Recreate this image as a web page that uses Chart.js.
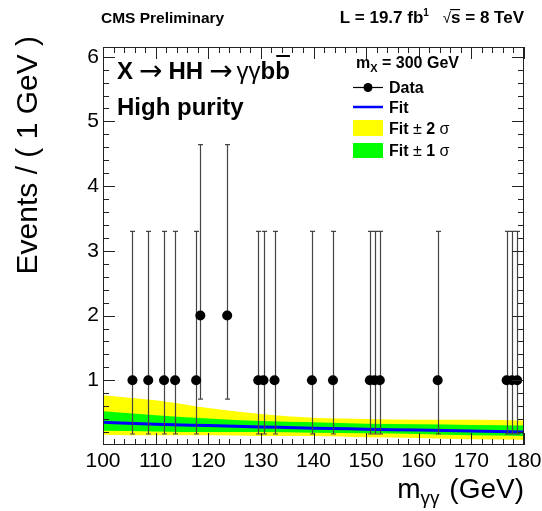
<!DOCTYPE html>
<html>
<head>
<meta charset="utf-8">
<script src="https://cdn.jsdelivr.net/npm/chart.js@4.4.0/dist/chart.umd.min.js"></script>
<style>
  html, body { margin: 0; padding: 0; background: #fff; }
  canvas { display: block; }
</style>
</head>
<body>
<canvas id="chart" width="542" height="511"></canvas>
<script>

/********************************/
/***** DATA *****/
/********************************/

// observed events (m_gg in GeV, counts, poisson error bar ends)
const massPoints = [105.6, 108.6, 111.6, 113.7, 117.7, 118.5, 123.6, 129.5, 130.5, 132.6, 139.7, 143.7, 150.7, 151.6, 152.6, 163.6, 176.7, 177.7, 178.7]
const eventCounts = [1, 1, 1, 1, 1, 2, 2, 1, 1, 1, 1, 1, 1, 1, 1, 1, 1, 1, 1]
const errLow = [0.17, 0.17, 0.17, 0.17, 0.17, 0.71, 0.71, 0.17, 0.17, 0.17, 0.17, 0.17, 0.17, 0.17, 0.17, 0.17, 0.17, 0.17, 0.17]
const errHigh = [3.30, 3.30, 3.30, 3.30, 3.30, 4.64, 4.64, 3.30, 3.30, 3.30, 3.30, 3.30, 3.30, 3.30, 3.30, 3.30, 3.30, 3.30, 3.30]

// background fit and its bands
const fitMass = [100, 110, 120, 130, 140, 150, 160, 170, 180]
const fitValues = [0.35, 0.32, 0.30, 0.28, 0.26, 0.245, 0.23, 0.215, 0.20]
const band2Up = [0.77, 0.69, 0.57, 0.48, 0.42, 0.40, 0.39, 0.39, 0.38]
const band1Up = [0.52, 0.46, 0.41, 0.37, 0.35, 0.33, 0.32, 0.31, 0.30]
const band1Down = [0.22, 0.21, 0.20, 0.20, 0.19, 0.18, 0.17, 0.15, 0.14]
const band2Down = [0.16, 0.15, 0.15, 0.14, 0.14, 0.12, 0.11, 0.09, 0.08]

const xRange = [100, 180]
const yRange = [0, 6.15]

/********************************/
/***** HELPERS *****/
/********************************/

const FONT = '"Liberation Sans", "DejaVu Sans", Arial, sans-serif'
const SYM = '"DejaVu Sans", "Liberation Sans", sans-serif'

const toXY = (xs, ys) => xs.map((x, i) => ({x: x, y: ys[i]}))

// draws a list of text pieces [{t, f, dy, gap}] one after another
const drawRich = (ctx, parts, x, y, align) => {
  let total = 0
  parts.forEach(p => { ctx.font = p.f; total += ctx.measureText(p.t).width + (p.gap || 0) })
  let cx = align === 'right' ? x - total : x
  const spans = []
  parts.forEach(p => {
    ctx.font = p.f
    ctx.textAlign = 'left'
    ctx.textBaseline = 'alphabetic'
    ctx.fillText(p.t, cx, y + (p.dy || 0))
    const w = ctx.measureText(p.t).width
    spans.push([cx, cx + w])
    cx += w + (p.gap || 0)
  })
  return spans
}

/********************************/
/***** ROOT STYLE PLUGIN *****/
/********************************/

const rootStyle = {
  id: 'rootStyle',

  beforeDatasetDraw: (chart, args) => {
    if (args.index !== 0) return
    const ctx = chart.ctx
    const xs = chart.scales.x
    const ys = chart.scales.y
    ctx.save()
    ctx.strokeStyle = '#444'
    ctx.lineWidth = 1.2
    massPoints.forEach((m, i) => {
      const px = Math.round(xs.getPixelForValue(m)) + 0.5
      const lo = ys.getPixelForValue(errLow[i])
      const hi = ys.getPixelForValue(errHigh[i])
      ctx.beginPath()
      ctx.moveTo(px, lo)
      ctx.lineTo(px, hi)
      ctx.moveTo(px - 2.5, lo)
      ctx.lineTo(px + 2.5, lo)
      ctx.moveTo(px - 2.5, hi)
      ctx.lineTo(px + 2.5, hi)
      ctx.stroke()
    })
    ctx.restore()
  },

  afterDatasetsDraw: (chart) => {
    const ctx = chart.ctx
    const a = chart.chartArea
    const xs = chart.scales.x
    const ys = chart.scales.y
    ctx.save()
    ctx.strokeStyle = '#222'
    ctx.lineWidth = 1
    ctx.strokeRect(a.left + 0.5, a.top + 0.5, a.right - a.left - 1, a.bottom - a.top - 1)
    ctx.beginPath()
    // x ticks, bottom and top
    for (let v = xRange[0]; v <= xRange[1] + 0.001; v += 2) {
      const px = Math.round(xs.getPixelForValue(v)) + 0.5
      const len = (Math.round(v) % 10 === 0) ? 12 : 6
      ctx.moveTo(px, a.bottom)
      ctx.lineTo(px, a.bottom - len)
      ctx.moveTo(px, a.top)
      ctx.lineTo(px, a.top + len)
    }
    // y ticks, left and right
    for (let k = 1; k * 0.2 <= yRange[1]; k++) {
      const py = Math.round(ys.getPixelForValue(k * 0.2)) + 0.5
      const len = (k % 5 === 0) ? 12 : 6
      ctx.moveTo(a.left, py)
      ctx.lineTo(a.left + len, py)
      ctx.moveTo(a.right, py)
      ctx.lineTo(a.right - len, py)
    }
    ctx.stroke()
    ctx.restore()
  },

  afterDraw: (chart) => {
    const ctx = chart.ctx
    const a = chart.chartArea
    ctx.save()
    ctx.fillStyle = '#000'

    // header
    drawRich(ctx, [{t: 'CMS Preliminary', f: 'bold 15.5px ' + FONT}], a.left - 2, 23)
    const sp = drawRich(ctx, [
      {t: 'L = 19.7 fb', f: 'bold 17px ' + FONT},
      {t: '1', f: 'bold 10px ' + FONT, dy: -7, gap: 14},
      {t: '\u221A', f: '15px ' + FONT},
      {t: 's = 8 TeV', f: 'bold 17px ' + FONT}
    ], a.right, 23, 'right')
    ctx.fillRect(sp[3][0] - 1, 9, 10, 1.2)

    // process and category
    const tp = drawRich(ctx, [
      {t: 'X', f: 'bold 24px ' + FONT, gap: 6},
      {t: '\u2192', f: '28px ' + SYM, gap: 6, dy: 1},
      {t: 'HH', f: 'bold 24px ' + FONT, gap: 6},
      {t: '\u2192', f: '28px ' + SYM, gap: 4, dy: 1},
      {t: '\u03B3\u03B3', f: '24px ' + FONT},
      {t: 'b', f: 'bold 24px ' + FONT},
      {t: 'b', f: 'bold 24px ' + FONT}
    ], 117, 79)
    ctx.fillRect(tp[6][0] + 1, 55, tp[6][1] - tp[6][0] - 1, 2)
    drawRich(ctx, [{t: 'High purity', f: 'bold 24px ' + FONT}], 117, 115)

    // legend
    drawRich(ctx, [
      {t: 'm', f: 'bold 16px ' + FONT},
      {t: 'X', f: 'bold 11px ' + FONT, dy: 4},
      {t: ' = 300 GeV', f: 'bold 16px ' + FONT}
    ], 356, 68)
    const lx = 353, lw = 30
    ctx.strokeStyle = '#000'
    ctx.lineWidth = 1.2
    ctx.beginPath()
    ctx.moveTo(lx, 87.5)
    ctx.lineTo(lx + lw, 87.5)
    ctx.stroke()
    ctx.beginPath()
    ctx.arc(lx + lw / 2, 87.5, 4.5, 0, Math.PI * 2)
    ctx.fill()
    drawRich(ctx, [{t: 'Data', f: 'bold 16px ' + FONT}], 389, 93)

    ctx.strokeStyle = '#0000ff'
    ctx.lineWidth = 2.5
    ctx.beginPath()
    ctx.moveTo(lx, 107)
    ctx.lineTo(lx + lw, 107)
    ctx.stroke()
    drawRich(ctx, [{t: 'Fit', f: 'bold 16px ' + FONT}], 389, 113)

    ctx.fillStyle = '#ffff00'
    ctx.fillRect(lx, 120, lw, 16)
    ctx.fillStyle = '#00ff00'
    ctx.fillRect(lx, 143, lw, 15)
    ctx.fillStyle = '#000'
    drawRich(ctx, [
      {t: 'Fit ', f: 'bold 16px ' + FONT},
      {t: '\u00B1 ', f: '16px ' + FONT},
      {t: '2 ', f: 'bold 16px ' + FONT},
      {t: '\u03C3', f: '16px ' + FONT}
    ], 389, 134)
    drawRich(ctx, [
      {t: 'Fit ', f: 'bold 16px ' + FONT},
      {t: '\u00B1 ', f: '16px ' + FONT},
      {t: '1 ', f: 'bold 16px ' + FONT},
      {t: '\u03C3', f: '16px ' + FONT}
    ], 389, 156)

    // axis titles
    drawRich(ctx, [
      {t: 'm', f: '28px ' + FONT},
      {t: '\u03B3\u03B3', f: '19px ' + FONT, dy: 6, gap: 2},
      {t: ' (GeV)', f: '28px ' + FONT}
    ], a.right, 498, 'right')

    ctx.translate(37, 36)
    ctx.rotate(-Math.PI / 2)
    ctx.font = '30px ' + FONT
    ctx.textAlign = 'right'
    ctx.textBaseline = 'alphabetic'
    ctx.fillText('Events / ( 1 GeV )', 0, 0)
    ctx.restore()
  }
}

/********************************/
/***** CHART *****/
/********************************/

const tickFont = {family: FONT, size: 21}

new Chart(document.getElementById('chart'), {
  type: 'scatter',
  data: {
    datasets: [
      {
        label: 'Data',
        data: toXY(massPoints, eventCounts),
        showLine: false,
        pointRadius: 5,
        pointBackgroundColor: '#000',
        pointBorderColor: '#000',
        pointBorderWidth: 0
      },
      {
        label: 'Fit',
        data: toXY(fitMass, fitValues),
        showLine: true,
        borderColor: '#0000ff',
        borderWidth: 3,
        pointRadius: 0,
        cubicInterpolationMode: 'monotone',
        fill: false
      },
      {
        label: 'Fit + 1 sigma',
        data: toXY(fitMass, band1Up),
        showLine: true,
        borderWidth: 0,
        pointRadius: 0,
        cubicInterpolationMode: 'monotone',
        backgroundColor: '#00ff00',
        fill: '+1'
      },
      {
        label: 'Fit - 1 sigma',
        data: toXY(fitMass, band1Down),
        showLine: true,
        borderWidth: 0,
        pointRadius: 0,
        cubicInterpolationMode: 'monotone',
        fill: false
      },
      {
        label: 'Fit + 2 sigma',
        data: toXY(fitMass, band2Up),
        showLine: true,
        borderWidth: 0,
        pointRadius: 0,
        cubicInterpolationMode: 'monotone',
        backgroundColor: '#ffff00',
        fill: '+1'
      },
      {
        label: 'Fit - 2 sigma',
        data: toXY(fitMass, band2Down),
        showLine: true,
        borderWidth: 0,
        pointRadius: 0,
        cubicInterpolationMode: 'monotone',
        fill: false
      }
    ]
  },
  options: {
    responsive: false,
    animation: false,
    events: [],
    layout: {padding: {top: 47, right: 18, left: 0, bottom: 0}},
    plugins: {
      legend: {display: false},
      tooltip: {enabled: false}
    },
    scales: {
      x: {
        type: 'linear',
        min: xRange[0],
        max: xRange[1],
        grid: {display: false, drawTicks: false},
        border: {display: false},
        ticks: {stepSize: 10, padding: 4, color: '#000', font: tickFont, maxRotation: 0},
        afterFit: (scale) => {
          scale.height = 66
          scale.paddingLeft = 0
          scale.paddingRight = 0
        }
      },
      y: {
        type: 'linear',
        min: yRange[0],
        max: yRange[1],
        grid: {display: false, drawTicks: false},
        border: {display: false},
        ticks: {
          stepSize: 1,
          includeBounds: false,
          padding: 4,
          color: '#000',
          font: tickFont,
          callback: (v) => (v > 0 && Number.isInteger(v)) ? v : ''
        },
        afterFit: (scale) => {
          scale.width = 103
          scale.paddingTop = 0
          scale.paddingBottom = 0
        }
      }
    }
  },
  plugins: [rootStyle]
})

</script>
</body>
</html>
